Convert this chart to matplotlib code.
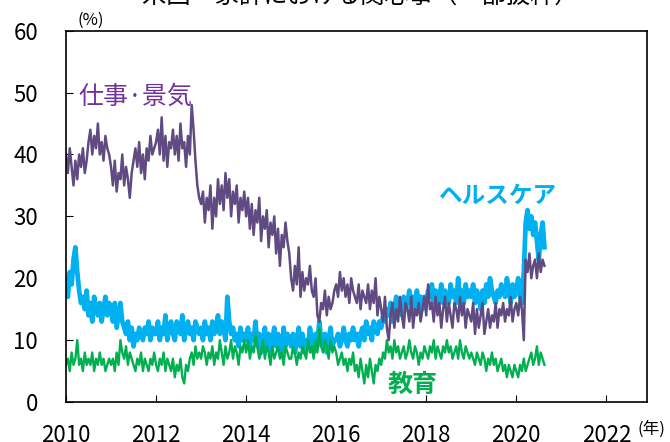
import numpy as np
import matplotlib.pyplot as plt

plt.rcParams['font.family'] = ['Noto Sans CJK JP', 'DejaVu Sans']

# semi-monthly readings (24 per year), 2010 - Aug 2020
job = [40,37,41,38,35,39,36,40,38,41,37,39,42,44,40,43,41,45,40,42,39,43,41,40,
       38,35,39,34,37,36,40,35,38,36,33,37,39,41,38,42,37,40,36,41,39,43,40,41,
       42,44,40,46,39,43,38,42,41,44,40,43,39,45,41,42,38,43,40,48,44,39,35,33,
       32,34,29,33,31,35,28,33,30,36,32,35,31,37,33,36,30,34,32,35,29,33,31,34,
       30,33,28,32,27,31,29,33,26,30,28,31,25,29,27,30,24,28,22,27,25,29,26,24,
       20,18,22,19,25,17,21,18,20,19,22,18,17,20,14,13,16,15,18,14,17,15,16,18,
       19,17,21,18,20,17,19,16,20,18,17,16,19,15,18,17,16,19,15,18,16,20,14,17,
       15,13,17,12,10,14,16,12,15,13,17,14,12,16,15,13,17,12,15,14,16,13,15,17,
       14,19,15,16,13,17,14,16,12,15,17,13,16,14,12,16,15,13,17,14,16,12,15,14,
       13,16,11,15,12,14,16,11,13,15,12,14,13,16,12,15,14,16,13,15,14,17,13,15,
       16,14,17,15,10,23,21,24,20,22,23,20,24,21,23,22]

health = [20,17,21,19,23,25,21,18,16,17,15,18,14,16,13,17,15,14,16,13,15,17,14,16,
          15,13,16,12,14,16,13,12,11,13,10,12,9,11,10,12,11,10,12,11,13,10,12,11,
          11,13,10,12,11,14,10,12,13,11,10,13,12,11,14,10,12,13,11,12,10,13,12,11,
          12,10,13,11,12,10,13,11,12,14,11,13,12,10,17,13,11,12,10,11,9,12,10,11,
          10,12,9,11,10,13,9,11,8,10,12,9,11,8,10,12,9,11,10,8,12,9,11,10,
          9,11,8,10,12,9,11,8,10,9,12,10,8,11,9,13,10,9,11,8,10,12,9,10,
          10,11,9,10,12,10,9,11,10,12,10,11,9,11,12,10,13,11,12,10,13,12,11,13,
          12,14,13,15,14,16,13,15,17,15,16,14,17,15,16,18,16,17,15,18,16,17,15,17,
          16,18,17,19,16,18,15,17,19,16,18,17,16,19,17,18,16,20,17,18,16,19,17,18,
          17,19,16,18,17,15,18,16,19,17,20,18,17,16,18,17,19,18,17,20,18,16,19,17,
          18,20,17,16,21,29,31,28,30,27,29,26,23,27,29,25]

edu = [6,7,5,8,6,7,10,6,7,5,8,6,7,6,8,5,7,6,8,6,7,5,6,7,
       6,7,5,8,6,10,8,7,9,6,8,7,6,5,7,6,8,5,7,6,5,7,6,8,
       6,5,7,6,8,5,7,6,5,7,4,6,5,7,4,3,6,5,7,8,6,9,7,8,
       7,9,8,6,8,7,9,6,8,7,10,8,6,9,7,8,10,7,9,8,6,9,8,10,
       8,10,7,9,8,11,9,7,8,10,7,9,8,6,9,7,8,9,7,8,6,9,8,7,
       7,9,8,6,8,7,9,8,7,10,8,9,7,10,8,12,9,8,10,9,7,10,8,9,
       8,6,7,8,6,7,5,7,6,8,5,6,4,7,5,3,6,4,7,5,3,6,5,7,
       6,8,7,10,8,9,7,10,8,9,7,8,9,7,8,10,8,7,9,8,6,8,7,9,
       8,7,9,8,10,7,9,8,7,9,8,10,8,9,7,8,9,7,10,8,7,9,8,7,
       8,7,6,8,7,6,8,7,5,7,6,8,6,7,5,6,7,5,6,4,6,5,4,6,
       5,4,6,5,7,5,6,7,8,6,7,9,6,8,7,6]

t = 2010 + np.arange(len(job)) / 24

fig = plt.figure(figsize=(6.7, 4.42), dpi=100)
ax = fig.add_axes([0.0985, 0.0905, 0.867, 0.84])

ax.plot(t, health, color='#00B0F0', lw=3.4)
ax.plot(t, edu, color='#00B050', lw=1.7)
ax.plot(t, job, color='#5F4B82', lw=1.8)

ax.set_xlim(2010, 2022.9)
ax.set_ylim(0, 60)
ax.set_xticks(range(2010, 2023, 2))
ax.set_yticks(range(0, 61, 10))
ax.tick_params(direction='in', length=5, labelsize=16)
ax.tick_params(axis='x', pad=16)
ax.tick_params(axis='y', pad=20)
for s in ax.spines.values():
    s.set_linewidth(1.2)

ax.text(2010.27, 49.3, '仕事·景気', color='#7030A0', fontsize=18, va='center')
ax.text(2019.6, 33.3, 'ヘルスケア', color='#00B0F0', fontsize=17,
        fontweight='bold', ha='center', va='center')
ax.text(2017.7, 2.8, '教育', color='#00B050', fontsize=18,
        fontweight='bold', ha='center', va='center')

fig.text(0.135, 0.955, '(%)', fontsize=12, ha='center', va='center')
fig.text(0.972, 0.03, '(年)', fontsize=12, ha='center', va='center')
fig.text(0.537, 1.008, '米国　家計における関心事（一部抜粋）', fontsize=17.5,
         ha='center', va='center')

fig.savefig('out.png', dpi=100)
